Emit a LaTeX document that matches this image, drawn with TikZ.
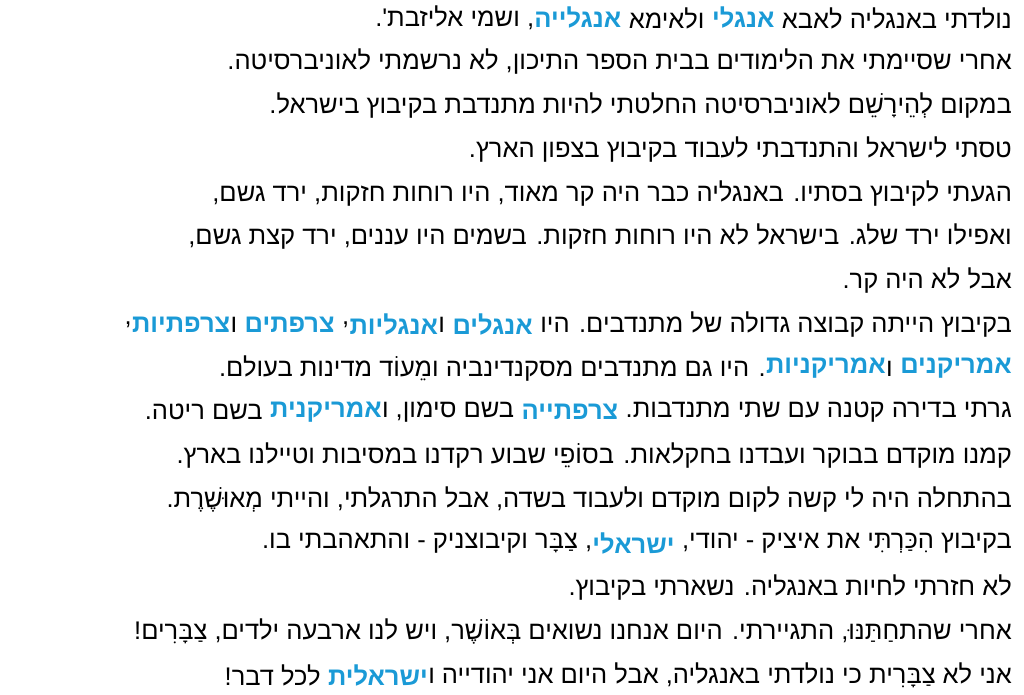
\documentclass[tikz,border=0pt]{standalone}
\usepackage{fontspec}
\setmainfont{Liberation Sans}
\newfontfamily\hebfont[Script=Hebrew,BoldFont={Liberation Sans Bold}]{Liberation Sans}
\TeXXeTstate=1
\definecolor{hblue}{HTML}{1A9AD6}
\newcommand{\R}[1]{\beginR #1\endR}
\tikzset{
 t/.style={anchor=east,inner sep=0pt,font=\hebfont\fontsize{25.5}{28}\selectfont,text=black},
 b/.style={t,text=hblue,font=\hebfont\bfseries\fontsize{25.5}{28}\selectfont},
 g/.style={xshift=-7.1pt}}
\begin{document}
\begin{tikzpicture}[x=1pt,y=1pt]
\useasboundingbox (0,0) rectangle (1024,694);
\def\X{1012}
\def\Y#1{676-43.8*#1}
\node[t] (a1) at (\X,{\Y{0}}) {\R{נולדתי באנגליה לאבא}};
\node[b,g] (a2) at (a1.west) {\R{אנגלי}};
\node[t,g] (a3) at (a2.west) {\R{ולאימא}};
\node[b,g] (a4) at (a3.west) {\R{אנגלייה}};
\node[t] (a5) at (a4.west) {\R{, ושמי אליזבת'.}};
\node[t] (l2) at (\X,{\Y{1}}) {\R{אחרי שסיימתי את הלימודים בבית הספר התיכון, לא נרשמתי לאוניברסיטה.}};
\node[t] (l3) at (\X,{\Y{2}}) {\R{במקום לְהֵירָשֵׁם לאוניברסיטה החלטתי להיות מתנדבת בקיבוץ בישראל.}};
\node[t] (l4) at (\X,{\Y{3}}) {\R{טסתי לישראל והתנדבתי לעבוד בקיבוץ בצפון הארץ.}};
\node[t] (l5) at (\X,{\Y{4}}) {\R{הגעתי לקיבוץ בסתיו. באנגליה כבר היה קר מאוד, היו רוחות חזקות, ירד גשם,}};
\node[t] (l6) at (\X,{\Y{5}}) {\R{ואפילו ירד שלג. בישראל לא היו רוחות חזקות. בשמים היו עננים, ירד קצת גשם,}};
\node[t] (l7) at (\X,{\Y{6}}) {\R{אבל לא היה קר.}};
\node[t] (h1) at (\X,{\Y{7}}) {\R{בקיבוץ הייתה קבוצה גדולה של מתנדבים. היו}};
\node[b,g] (h2) at (h1.west) {\R{אנגלים}};
\node[t,g] (h3) at (h2.west) {\R{ו}};
\node[b] (h4) at (h3.west) {\R{אנגליות}};
\node[t] (h5) at (h4.west) {\R{,}};
\node[b,g] (h6) at (h5.west) {\R{צרפתים}};
\node[t,g] (h7) at (h6.west) {\R{ו}};
\node[b] (h8) at (h7.west) {\R{צרפתיות}};
\node[t] (h9) at (h8.west) {\R{,}};
\node[b] (i1) at (\X,{\Y{8}}) {\R{אמריקנים}};
\node[t,g] (i2) at (i1.west) {\R{ו}};
\node[b] (i3) at (i2.west) {\R{אמריקניות}};
\node[t] (i4) at (i3.west) {\R{. היו גם מתנדבים מסקנדינביה ומֵעוֹד מדינות בעולם.}};
\node[t] (j1) at (\X,{\Y{9}}) {\R{גרתי בדירה קטנה עם שתי מתנדבות.}};
\node[b,g] (j2) at (j1.west) {\R{צרפתייה}};
\node[t,g] (j3) at (j2.west) {\R{בשם סימון, ו}};
\node[b] (j4) at (j3.west) {\R{אמריקנית}};
\node[t,g] (j5) at (j4.west) {\R{בשם ריטה.}};
\node[t] (l11) at (\X,{\Y{10}}) {\R{קמנו מוקדם בבוקר ועבדנו בחקלאות. בסוֹפֵי שבוע רקדנו במסיבות וטיילנו בארץ.}};
\node[t] (l12) at (\X,{\Y{11}}) {\R{בהתחלה היה לי קשה לקום מוקדם ולעבוד בשדה, אבל התרגלתי, והייתי מְאוּשֶׁרֶת.}};
\node[t] (k1) at (\X,{\Y{12}}) {\R{בקיבוץ הִכַּרְתִּי את איציק - יהודי,}};
\node[b,g] (k2) at (k1.west) {\R{ישראלי}};
\node[t] (k3) at (k2.west) {\R{, צַבָּר וקיבוצניק - והתאהבתי בו.}};
\node[t] (l14) at (\X,{\Y{13}}) {\R{לא חזרתי לחיות באנגליה. נשארתי בקיבוץ.}};
\node[t] (l15) at (\X,{\Y{14}}) {\R{אחרי שהתחַתַּנּוּ, התגיירתי. היום אנחנו נשואים בְּאוֹשֶׁר, ויש לנו ארבעה ילדים, צַבָּרִים!}};
\node[t] (m1) at (\X,{\Y{15}}) {\R{אני לא צַבָּרִית כי נולדתי באנגליה, אבל היום אני יהודייה ו}};
\node[b] (m2) at (m1.west) {\R{ישראלית}};
\node[t,g] (m3) at (m2.west) {\R{לכל דבר!}};
\end{tikzpicture}
\end{document}
